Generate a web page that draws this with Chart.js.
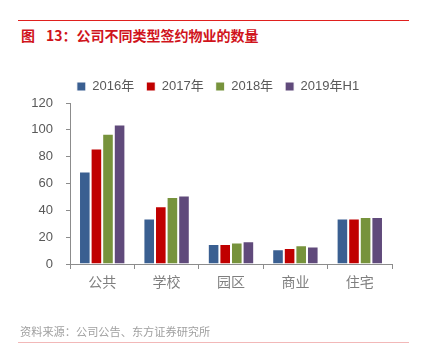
<!DOCTYPE html>
<html><head><meta charset="utf-8">
<script src="https://cdn.jsdelivr.net/npm/chart.js@4/dist/chart.umd.min.js"></script>
<style>
html,body{margin:0;padding:0;background:#fff;width:431px;height:359px;overflow:hidden;}
#wrap{position:absolute;left:0;top:0;width:431px;height:359px;}
.topline{position:absolute;left:18px;top:20px;width:391px;height:1px;background:#E0201E;}
.title{position:absolute;left:21px;top:24px;font:bold 14px/22px "Noto Sans CJK SC",sans-serif;color:#D0141C;white-space:nowrap;}
.title .num{margin-left:11px;}
.src{position:absolute;left:20px;top:323px;font:11.2px/17px "Noto Sans CJK SC",sans-serif;color:#A0A0A0;white-space:nowrap;}
.botline{position:absolute;left:18px;top:342px;width:391px;height:1px;background:#F2B8B8;}
</style></head>
<body>
<div class="topline"></div>
<div class="title">图<span class="num">13：</span>公司不同类型签约物业的数量</div>
<div id="wrap"><canvas id="c" width="431" height="359"></canvas></div>
<div class="src">资料来源：公司公告、东方证券研究所</div>
<div class="botline"></div>
<script>
const categories = ['公共','学校','园区','商业','住宅'];
const seriesNames = ['2016年','2017年','2018年','2019年H1'];
const v2016 = [69, 34, 15, 11, 34];
const v2017 = [86, 43, 15, 12, 34];
const v2018 = [97, 50, 16, 14, 35];
const v2019H1 = [104, 51, 17, 13, 35];
const yTicks = [0,20,40,60,80,100,120];
const colors = ['#3A5F91','#C00000','#77933C','#604A7B'];
const allValues = [v2016, v2017, v2018, v2019H1];

const FONT = '"Liberation Sans","Noto Sans CJK SC",sans-serif';
const shiftLegend = {
  id: 'shiftLegend',
  afterLayout(chart) {
    const lg = chart.legend;
    if (lg) { lg.left += 13; lg.right += 13; }
  }
};
new Chart(document.getElementById('c'), {
  type: 'bar',
  data: {
    labels: categories,
    datasets: seriesNames.map((n,i)=>({
      label: n, data: allValues[i], backgroundColor: colors[i],
      borderColor: '#ffffff', borderWidth: 1,
      barPercentage: 1.0, categoryPercentage: 0.72
    }))
  },
  plugins: [shiftLegend],
  options: {
    responsive: false, animation: false, devicePixelRatio: 1,
    layout: { padding: { left: 18, right: 39, top: 68, bottom: 59 } },
    plugins: {
      tooltip: { enabled: false },
      legend: {
        position: 'top',
        labels: { boxWidth: 9, boxHeight: 9, padding: 12, color: '#595959',
          font: { family: FONT, size: 13 } }
      }
    },
    scales: {
      x: {
        grid: { display: true, drawOnChartArea: false, drawTicks: true, tickLength: 5, color: '#8C8C8C', offset: true },
        border: { color: '#8C8C8C', width: 1 },
        ticks: { color: '#7F7F7F', font: { family: '"Noto Sans CJK SC",sans-serif', size: 14 }, padding: 4 },
        afterFit: s => { s.height = 36; }
      },
      y: {
        min: 0, max: 120,
        afterBuildTicks: s => { s.ticks = yTicks.map(v=>({value:v})); },
        grid: { display: true, drawOnChartArea: false, drawTicks: true, tickLength: 4, color: '#8C8C8C' },
        border: { color: '#8C8C8C', width: 1 },
        ticks: { color: '#595959', font: { family: FONT, size: 13 }, padding: 13 },
        afterFit: s => { s.width = 52; }
      }
    }
  }
});
</script>
</body></html>
